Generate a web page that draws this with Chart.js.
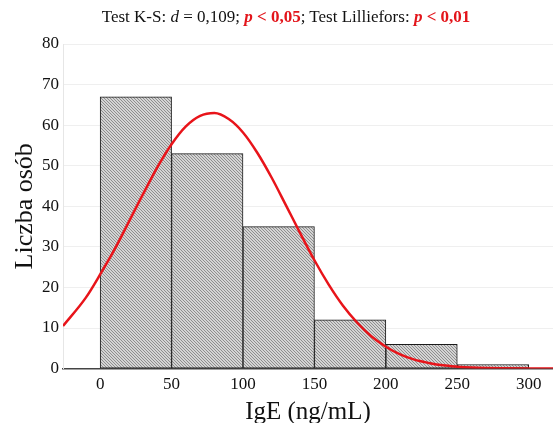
<!DOCTYPE html>
<html lang="pl">
<head>
  <meta charset="UTF-8" />
  <title>IgE histogram</title>
  <style>
    * { margin: 0; padding: 0; }
    body { width: 553px; height: 423px; background: #fff; position: relative; overflow: hidden; }
    .chartBox { position: absolute; left: 0; top: 0; width: 553px; height: 423px; }
    .title {
      position: absolute; left: 0; top: 7px; width: 572px; text-align: center; line-height: 20px;
      font-family: "Liberation Serif", "Times New Roman", serif; font-size: 17px; color: #111;
    }
    .title .red { color: #e3151b; font-weight: bold; font-style: italic; }
    .title .redn { color: #e3151b; font-weight: bold; }
  </style>
</head>
<body>
  <div class="chartBox"><canvas id="myChart" width="553" height="423"></canvas></div>
  <div class="title">Test K-S: <i>d</i> = 0,109; <span class="red">p</span><span class="redn"> &lt; 0,05</span>; Test Lilliefors: <span class="red">p</span><span class="redn"> &lt; 0,01</span></div>
  <script src="https://cdn.jsdelivr.net/npm/chart.js@4"></script>
  <script>
    // histogram bins (midpoints) and counts
    const binMids = [25, 75, 125, 175, 225, 275];
    const counts = [67, 53, 35, 12, 6, 1];
    // fitted normal curve
    const curveX = [-26, -10, 0, 10, 20, 30, 40, 50, 60, 70, 80, 90, 100, 110, 120, 130, 140, 150, 160, 170, 180, 190, 200, 210, 220, 230, 240, 250, 260, 270, 280, 300, 317];
    const curveY = [10.5, 17.5, 23.2, 29.3, 36.1, 43.0, 49.6, 55.3, 59.7, 62.3, 63.0, 61.5, 58.2, 53.2, 47.1, 40.3, 33.4, 26.7, 20.7, 15.5, 11.3, 7.9, 5.4, 3.5, 2.2, 1.4, 0.8, 0.47, 0.25, 0.13, 0.06, 0.01, 0];
    const xTicks = [0, 50, 100, 150, 200, 250, 300];

    function hatch() {
      const c = document.createElement("canvas");
      c.width = 6; c.height = 6;
      const g = c.getContext("2d");
      g.fillStyle = "#d4d4d4";
      g.fillRect(0, 0, 6, 6);
      g.fillStyle = "#8e8e8e";
      for (let y = 0; y < 6; y++) {
        for (let x = 0; x < 6; x++) {
          if ((x - y + 6) % 3 === 0) g.fillRect(x, y, 1, 1);
        }
      }
      return g.createPattern(c, "repeat");
    }

    const serif = "'Liberation Serif', 'Times New Roman', serif";
    Chart.defaults.font.family = serif;
    Chart.defaults.color = "#111";

    const ctx = document.getElementById("myChart").getContext("2d");
    const myChart = new Chart(ctx, {
      data: {
        datasets: [
          {
            type: "line",
            data: curveX.map((x, i) => ({ x: x, y: curveY[i] })),
            borderColor: "#e8141a",
            borderWidth: 2.5,
            pointRadius: 0,
            tension: 0.4,
            cubicInterpolationMode: "monotone",
            order: 0
          },
          {
            type: "bar",
            data: binMids.map((x, i) => ({ x: x, y: counts[i] })),
            backgroundColor: hatch(),
            borderColor: "#1a1a1a",
            borderWidth: 1,
            borderSkipped: false,
            barPercentage: 1,
            categoryPercentage: 1,
            order: 1
          }
        ]
      },
      options: {
        responsive: false,
        animation: false,
        layout: { padding: { top: 44, right: 0, left: 12, bottom: 0 } },
        plugins: { legend: { display: false }, tooltip: { enabled: false } },
        scales: {
          x: {
            type: "linear",
            offset: false,
            min: -26,
            max: 317,
            afterBuildTicks: (scale) => { scale.ticks = xTicks.map(v => ({ value: v })); },
            grid: { display: false, drawTicks: false },
            border: { color: "#444", width: 1.5 },
            ticks: { font: { size: 17 }, padding: 6, maxRotation: 0 },
            title: { display: true, text: "IgE (ng/mL)", font: { size: 25, lineHeight: 0.88 }, padding: { top: 0, bottom: 0 } }
          },
          y: {
            min: 0,
            max: 80,
            ticks: { stepSize: 10, font: { size: 17 }, padding: 4 },
            grid: { color: "#efefef", drawTicks: false },
            border: { color: "#e6e6e6" },
            title: { display: true, text: "Liczba osób", font: { size: 26, lineHeight: 1 }, padding: { top: 0, bottom: 0 } }
          }
        }
      }
    });
  </script>
</body>
</html>
